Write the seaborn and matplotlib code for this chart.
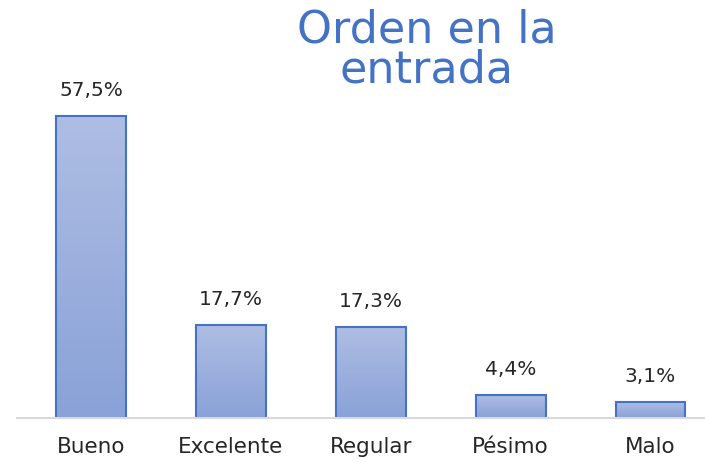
import numpy as np
import pandas as pd
import seaborn as sns
import matplotlib.pyplot as plt
from matplotlib.colors import LinearSegmentedColormap

categories = ['Bueno', 'Excelente', 'Regular', 'Pésimo', 'Malo']
values = [57.5, 17.7, 17.3, 4.4, 3.1]
labels = ['57,5%', '17,7%', '17,3%', '4,4%', '3,1%']

sns.set_theme(style='white')
plt.rcParams['font.family'] = ['DejaVu Sans']

df = pd.DataFrame({'cat': categories, 'val': values})

fig = plt.figure(figsize=(7.05, 4.64), dpi=100)
ax = fig.add_axes([17 / 705, 45 / 464, 1 - 17 / 705, 419 / 464])

sns.barplot(data=df, x='cat', y='val', color='#9aaedd', width=0.5,
            edgecolor='#4472c4', linewidth=1.5, saturation=1, ax=ax)

# soft vertical gradient inside each bar, like the office chart
grad = LinearSegmentedColormap.from_list('g', ['#8aa2d8', '#aebde3'])
for p in ax.patches:
    x0, y0 = p.get_x(), p.get_y()
    w, h = p.get_width(), p.get_height()
    im = ax.imshow(np.linspace(0, 1, 64).reshape(-1, 1), cmap=grad, origin='lower',
                   extent=[x0, x0 + w, y0, y0 + h], aspect='auto', zorder=p.get_zorder())
    im.set_clip_path(p)
    p.set_zorder(p.get_zorder() + 0.1)
    p.set_facecolor('none')

for i, (v, t) in enumerate(zip(values, labels)):
    ax.annotate(t, (i, v), xytext=(0, 12), textcoords='offset points',
                ha='center', va='bottom', fontsize=14.5, color='#262626')

ax.set_xlim(-0.53, 4.39)
ax.set_ylim(0, 79.8)
ax.set_xlabel('')
ax.set_ylabel('')
ax.set_yticks([])
ax.tick_params(axis='x', length=0, pad=13, labelsize=15.5, labelcolor='#262626')
for s in ['top', 'right', 'left']:
    ax.spines[s].set_visible(False)
ax.spines['bottom'].set_color('#d9d9d9')
ax.spines['bottom'].set_linewidth(1.5)

fig.text(427 / 705, 1 - 50 / 464, 'Orden en la\nentrada', ha='center', va='center',
         fontsize=32, color='#4472c4', linespacing=0.9)

fig.savefig('out.png', dpi=100)
